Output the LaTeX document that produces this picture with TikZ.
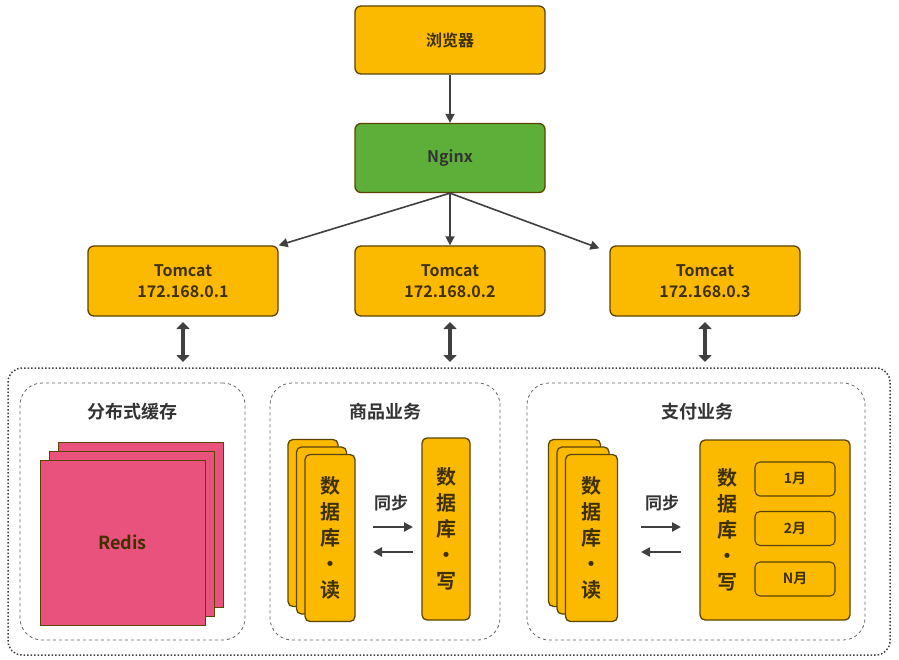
\documentclass[tikz,border=0pt]{standalone}
\usepackage{fontspec}
\setmainfont{Noto Sans CJK SC}[BoldFont={Noto Sans CJK SC Bold}]
\usetikzlibrary{arrows.meta,calc}
\definecolor{gold}{HTML}{FBB900}
\definecolor{edge}{HTML}{5A4500}
\definecolor{ngx}{HTML}{5DAF3A}
\definecolor{pink}{HTML}{E8527C}
\definecolor{arr}{HTML}{404040}
\begin{document}
\begin{tikzpicture}[x=1pt,y=-1pt,font=\bfseries,
  box/.style={draw=edge,line width=1.3pt,rounded corners=6pt,fill=gold,inner sep=0pt},
  card/.style={draw=edge,line width=1.3pt,rounded corners=5pt,fill=gold},
  panel/.style={draw=gray!80!black,dashed,line width=0.8pt,rounded corners=22pt,fill=white},
  conn/.style={-{Triangle[length=9pt,width=9pt]},arr,line width=1.6pt},
  dbl/.style={{Triangle[length=7pt,width=13pt]}-{Triangle[length=7pt,width=13pt]},arr,line width=4pt},
  vtxt/.style={font=\fontsize{20}{26}\selectfont\bfseries,text=edge!70!black,align=center}]
\useasboundingbox (0,0) rectangle (899,660);
\fill[white] (0,0) rectangle (899,660);
% top
\node[box,minimum width=190pt,minimum height=68pt,font=\fontsize{16}{20}\selectfont\bfseries,text=edge!70!black] (br) at (450,40) {浏览器};
\node[box,fill=ngx,minimum width=190pt,minimum height=69pt,font=\fontsize{16}{20}\selectfont\bfseries,text=black!80] (ng) at (450,158) {Nginx};
\foreach \i/\x in {1/183,2/450,3/705}{
  \node[box,minimum width=190pt,minimum height=70pt,align=center,font=\fontsize{16}{21}\selectfont\bfseries,text=edge!70!black] (t\i) at (\x,281) {Tomcat\\172.168.0.\i};
  \coordinate (u\i) at (\x,322); \coordinate (d\i) at (\x,362);
  \draw[dbl] (u\i) -- (d\i);
}
\draw[conn] (br) -- (ng);
\draw[conn] (ng.south) -- (t1.north east);
\draw[conn] (ng.south) -- (t2.north);
\draw[conn] (ng.south) -- ($(t3.north west)+(-10,3)$);
% outer
\node[draw=arr,dotted,line width=1.5pt,rounded corners=14pt,minimum width=882pt,minimum height=287pt] (outer) at (449,511.5) {};
% panel 1
\node[panel,minimum width=225pt,minimum height=257pt] (p1) at (132.5,511.5) {};
\node[font=\fontsize{18}{22}\selectfont\bfseries,text=black!80] (p1t) at (132.5,412) {分布式缓存};
\foreach \k in {2,1}{
  \node[draw=edge,line width=1pt,fill=pink,minimum width=165pt,minimum height=165pt] (r\k) at ({122.5+9*\k},{542.5-9*\k}) {};}
\node[draw=edge,line width=1pt,fill=pink,minimum width=165pt,minimum height=165pt,font=\fontsize{18}{22}\selectfont\bfseries,text=edge!70!black] (r0) at (122.5,542.5) {Redis};
% panel 2
\node[panel,minimum width=230pt,minimum height=257pt] (p2) at (385,511.5) {};
\node[font=\fontsize{18}{22}\selectfont\bfseries,text=black!80] (p2t) at (385,412) {商品业务};
\foreach \k in {2,1}{
  \node[card,minimum width=50pt,minimum height=167pt] (a\k) at ({330-8.5*\k},{538-7.5*\k}) {};}
\node[card,minimum width=50pt,minimum height=167pt,vtxt] (a0) at (330,538) {数\\据\\库\\·\\读};
\node[card,minimum width=48pt,minimum height=182pt,vtxt] (w1) at (446,529) {数\\据\\库\\·\\写};
\node[font=\fontsize{17}{20}\selectfont\bfseries,text=black!80] (s1) at (391,503) {同步};
\coordinate (s1a) at (373,527); \coordinate (s1b) at (413,527);
\coordinate (s1c) at (413,552); \coordinate (s1d) at (373,552);
\draw[conn,line width=2.2pt] (s1a) -- (s1b);
\draw[conn,line width=2.2pt] (s1c) -- (s1d);
% panel 3
\node[panel,minimum width=338pt,minimum height=257pt] (p3) at (696,511.5) {};
\node[font=\fontsize{18}{22}\selectfont\bfseries,text=black!80] (p3t) at (697,412) {支付业务};
\foreach \k in {2,1}{
  \node[card,minimum width=52pt,minimum height=167pt] (b\k) at ({591.5-8.5*\k},{538-7.5*\k}) {};}
\node[card,minimum width=52pt,minimum height=167pt,vtxt] (b0) at (591.5,538) {数\\据\\库\\·\\读};
\node[card,minimum width=150pt,minimum height=180pt] (w2) at (775,530) {};
\node[vtxt] (w2t) at (727,530) {数\\据\\库\\·\\写};
\foreach \n/\y/\t in {m1/479/1月,m2/528.5/2月,m3/579/N月}{
  \node[draw=edge,line width=1.1pt,rounded corners=5pt,minimum width=80pt,minimum height=34pt,font=\fontsize{14}{16}\selectfont\bfseries,text=edge!70!black] (\n) at (795,\y) {\t};}
\node[font=\fontsize{17}{20}\selectfont\bfseries,text=black!80] (s2) at (662,503) {同步};
\coordinate (s2a) at (641,527); \coordinate (s2b) at (681,527);
\coordinate (s2c) at (681,552); \coordinate (s2d) at (641,552);
\draw[conn,line width=2.2pt] (s2a) -- (s2b);
\draw[conn,line width=2.2pt] (s2c) -- (s2d);
\end{tikzpicture}
\end{document}
